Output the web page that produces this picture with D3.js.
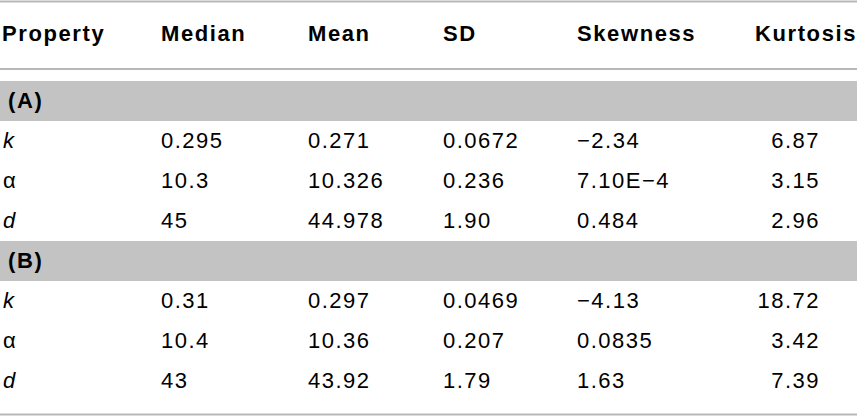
<!DOCTYPE html>
<html>
<head>
<meta charset="utf-8">
<script src="https://cdn.jsdelivr.net/npm/d3@7"></script>
<style>
body { margin: 0; background: #fff; }
text { font-family: "Liberation Sans", Arial, sans-serif; font-size: 22px; fill: #000; letter-spacing: 1.5px; }
.head, .group { font-weight: bold; letter-spacing: 1.6px; }
</style>
</head>
<body>
<div id="table"></div>
<script>
// Table content
var columns = ["Property", "Median", "Mean", "SD", "Skewness", "Kurtosis"];
var groups = ["(A)", "(B)"];
var properties = ["k", "\u03b1", "d"];
var italicProps = ["k", "d"];

var medianA = ["0.295", "10.3", "45"];
var meanA = ["0.271", "10.326", "44.978"];
var sdA = ["0.0672", "0.236", "1.90"];
var skewA = ["\u22122.34", "7.10E\u22124", "0.484"];
var kurtA = ["6.87", "3.15", "2.96"];

var medianB = ["0.31", "10.4", "43"];
var meanB = ["0.297", "10.36", "43.92"];
var sdB = ["0.0469", "0.207", "1.79"];
var skewB = ["\u22124.13", "0.0835", "1.63"];
var kurtB = ["18.72", "3.42", "7.39"];

var svgWidth = 857;
var svgHeight = 416;

var svg = d3.select("#table")
  .append("svg")
  .attr("width", svgWidth)
  .attr("height", svgHeight);

// column positions (left edge of text, last column right edge)
var xCol = d3.scaleOrdinal()
  .domain(columns)
  .range([2, 161, 308, 443, 577, 755]);
var kurtRight = 820;

// row slots: 0 = group (A), 1-3 rows, 4 = group (B), 5-7 rows
var yRow = d3.scaleLinear().domain([0, 8]).range([81, 401]);
var rowH = yRow(1) - yRow(0);
var baseline = 27;

// build row list from arrays
var rows = [];
var blocks = [
  [medianA, meanA, sdA, skewA, kurtA],
  [medianB, meanB, sdB, skewB, kurtB]
];
groups.forEach(function(g, gi) {
  rows.push({ type: "group", label: g, slot: gi * 4 });
  properties.forEach(function(p, pi) {
    var b = blocks[gi];
    rows.push({
      type: "data",
      slot: gi * 4 + 1 + pi,
      values: [p, b[0][pi], b[1][pi], b[2][pi], b[3][pi], b[4][pi]]
    });
  });
});

// rules
[1.5, 69, 414.5].forEach(function(y) {
  svg.append("line")
    .attr("x1", 0).attr("x2", svgWidth)
    .attr("y1", y).attr("y2", y)
    .attr("stroke", "#b8b8b8").attr("stroke-width", 2);
});

// header
svg.selectAll("text.head")
  .data(columns)
  .enter()
  .append("text")
  .attr("class", "head")
  .attr("x", d => xCol(d))
  .attr("y", 41)
  .text(d => d);

// group bands
var groupRows = rows.filter(d => d.type === "group");
svg.selectAll("rect.band")
  .data(groupRows)
  .enter()
  .append("rect")
  .attr("class", "band")
  .attr("x", 0)
  .attr("y", d => yRow(d.slot))
  .attr("width", svgWidth)
  .attr("height", rowH)
  .attr("fill", "#c3c3c3");

svg.selectAll("text.group")
  .data(groupRows)
  .enter()
  .append("text")
  .attr("class", "group")
  .attr("x", 8)
  .attr("y", d => yRow(d.slot) + baseline)
  .text(d => d.label);

// data cells
var dataRows = svg.selectAll("g.row")
  .data(rows.filter(d => d.type === "data"))
  .enter()
  .append("g")
  .attr("class", "row")
  .attr("transform", d => `translate(0, ${yRow(d.slot) + baseline})`);

dataRows.selectAll("text")
  .data(d => d.values.map((v, i) => ({ value: v, col: columns[i], i: i })))
  .enter()
  .append("text")
  .attr("x", d => d.i === 5 ? kurtRight : xCol(d.col) + (d.i === 0 ? 1 : 0))
  .attr("text-anchor", d => d.i === 5 ? "end" : "start")
  .attr("font-style", d => d.i === 0 && italicProps.indexOf(d.value) >= 0 ? "italic" : "normal")
  .text(d => d.value);
</script>
</body>
</html>
